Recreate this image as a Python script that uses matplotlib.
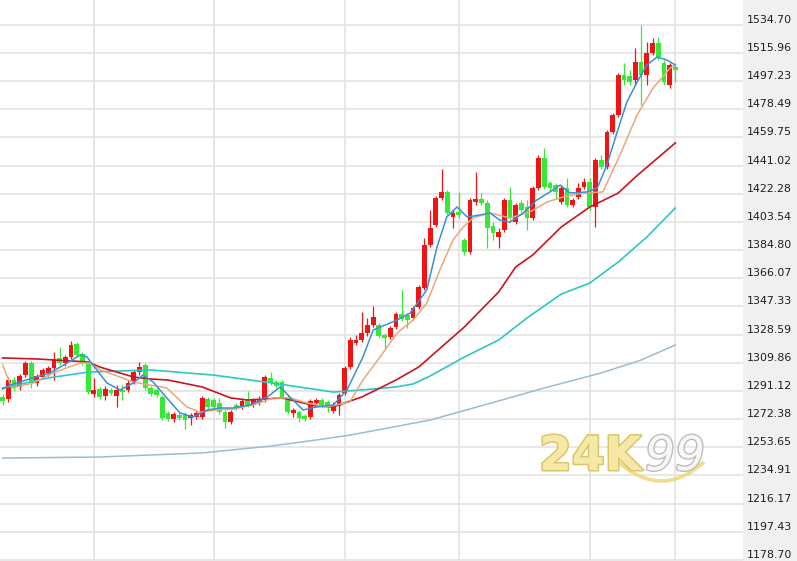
import matplotlib
matplotlib.use('Agg')
import matplotlib.pyplot as plt
import matplotlib.patheffects as pe
from matplotlib.path import Path
from matplotlib.patches import PathPatch

# ---------------- data ----------------
opens = [1287.1, 1285.8, 1298.4, 1293.8, 1301.7, 1309.7, 1296.4, 1300.4, 1303.1, 1306.4,
         1313.1, 1309.7, 1313.7, 1322.4, 1315.7, 1309.7, 1289.1, 1292.4, 1287.8, 1291.8,
         1287.8, 1291.8, 1291.8, 1297.1, 1303.7, 1308.4, 1293.1, 1291.8, 1287.1, 1276.5,
         1272.5, 1275.2, 1275.2, 1273.1, 1273.8, 1273.8, 1285.8, 1285.1, 1283.1, 1277.1,
         1270.5, 1281.8, 1280.5, 1285.1, 1281.8, 1283.1, 1285.1, 1299.8, 1297.1, 1297.1,
         1287.1, 1276.5, 1277.1, 1274.5, 1273.8, 1283.1, 1285.1, 1283.8, 1277.8, 1281.1,
         1289.8, 1307.1, 1323.0, 1325.0, 1329.7, 1335.0, 1335.0, 1328.4, 1327.0, 1333.7,
         1342.3, 1341.7, 1339.7, 1347.0, 1359.6, 1388.2, 1401.5, 1419.5, 1423.5, 1406.8,
         1410.2, 1391.5, 1383.6, 1416.8, 1418.8, 1416.2, 1400.9, 1393.5, 1398.2, 1418.1,
         1403.5, 1416.2, 1413.5, 1406.2, 1426.1, 1446.1, 1429.5, 1428.1, 1416.8, 1426.1,
         1414.8, 1420.1, 1426.8, 1430.1, 1413.5, 1444.7, 1440.1, 1463.4, 1474.7, 1501.3,
         1500.6, 1498.0, 1509.9, 1501.3, 1515.9, 1522.6, 1509.3, 1494.6, 1506.6]
highs = [1289.1, 1300.4, 1300.4, 1302.4, 1311.1, 1311.1, 1302.4, 1306.4, 1307.7, 1317.1,
         1320.4, 1315.1, 1324.4, 1323.7, 1317.1, 1311.1, 1299.8, 1293.8, 1294.4, 1293.1,
         1295.1, 1295.1, 1298.4, 1305.1, 1310.4, 1309.7, 1294.4, 1293.1, 1288.5, 1277.8,
         1277.1, 1276.5, 1277.1, 1276.5, 1277.8, 1287.8, 1287.1, 1286.5, 1286.5, 1278.5,
         1278.5, 1283.1, 1285.8, 1291.1, 1286.5, 1287.8, 1301.7, 1303.7, 1298.4, 1298.4,
         1288.5, 1279.8, 1278.5, 1275.8, 1285.8, 1286.5, 1286.5, 1285.1, 1283.8, 1289.8,
         1307.7, 1327.0, 1328.4, 1343.7, 1339.7, 1347.6, 1336.3, 1329.7, 1334.3, 1343.7,
         1358.3, 1343.0, 1347.6, 1361.6, 1392.9, 1411.5, 1420.8, 1438.8, 1424.8, 1411.5,
         1423.5, 1392.9, 1419.5, 1436.8, 1422.8, 1418.1, 1403.5, 1399.5, 1419.5, 1426.8,
         1416.2, 1418.1, 1418.1, 1427.5, 1448.1, 1452.7, 1430.8, 1429.5, 1427.5, 1432.8,
         1419.5, 1429.5, 1432.8, 1432.8, 1446.1, 1448.1, 1464.7, 1476.0, 1502.6, 1509.3,
         1504.6, 1519.2, 1534.5, 1523.2, 1525.9, 1526.6, 1511.3, 1509.3, 1509.3]
lows = [1281.8, 1283.8, 1291.1, 1291.8, 1300.4, 1293.1, 1294.4, 1299.1, 1301.1, 1298.4,
        1308.4, 1307.7, 1312.4, 1313.7, 1308.4, 1289.1, 1287.1, 1285.8, 1285.1, 1288.5,
        1280.5, 1285.1, 1290.4, 1295.8, 1301.7, 1291.8, 1287.8, 1287.1, 1271.8, 1271.2,
        1270.5, 1271.8, 1265.8, 1268.5, 1272.5, 1272.5, 1279.1, 1279.1, 1275.8, 1266.5,
        1269.2, 1278.5, 1279.1, 1280.5, 1280.5, 1281.8, 1283.8, 1295.1, 1293.1, 1285.8,
        1275.8, 1273.8, 1270.5, 1271.2, 1272.5, 1281.8, 1280.5, 1277.1, 1276.5, 1275.2,
        1288.5, 1305.7, 1321.7, 1323.7, 1327.7, 1333.7, 1326.4, 1319.7, 1325.7, 1332.3,
        1337.7, 1333.0, 1338.3, 1345.6, 1358.3, 1386.9, 1400.2, 1418.1, 1408.2, 1399.5,
        1406.2, 1381.6, 1382.2, 1414.8, 1414.8, 1386.2, 1391.5, 1386.2, 1396.9, 1404.8,
        1402.2, 1410.2, 1398.2, 1404.8, 1424.8, 1425.5, 1424.1, 1418.8, 1415.5, 1413.5,
        1413.5, 1418.8, 1425.5, 1411.5, 1400.2, 1438.8, 1438.8, 1462.0, 1473.3, 1494.6,
        1494.6, 1494.6, 1481.3, 1494.6, 1514.6, 1511.3, 1494.6, 1492.6, 1496.6]
closes = [1284.5, 1298.4, 1293.1, 1301.1, 1309.7, 1296.4, 1301.1, 1305.1, 1306.4, 1312.4,
          1309.7, 1313.7, 1321.7, 1315.1, 1309.7, 1290.4, 1291.8, 1287.1, 1292.4, 1289.8,
          1291.8, 1290.4, 1296.4, 1303.7, 1307.1, 1293.1, 1289.1, 1288.5, 1273.1, 1272.5,
          1275.8, 1273.1, 1271.8, 1275.2, 1276.5, 1286.5, 1280.5, 1280.5, 1277.1, 1270.5,
          1277.1, 1279.8, 1284.5, 1281.8, 1285.1, 1285.8, 1300.4, 1296.4, 1294.4, 1287.1,
          1277.1, 1278.5, 1273.2, 1272.5, 1284.5, 1285.1, 1281.8, 1280.5, 1281.8, 1288.5,
          1306.4, 1325.0, 1325.0, 1329.7, 1335.0, 1340.3, 1327.7, 1326.4, 1333.0, 1342.3,
          1339.0, 1338.3, 1346.3, 1360.3, 1388.2, 1399.5, 1419.5, 1423.5, 1409.5, 1409.5,
          1408.2, 1383.6, 1418.1, 1418.8, 1416.2, 1399.5, 1396.2, 1396.9, 1418.1, 1406.2,
          1414.8, 1411.5, 1406.2, 1426.1, 1446.1, 1426.8, 1426.1, 1423.5, 1426.1, 1414.8,
          1418.1, 1426.1, 1430.1, 1413.5, 1444.7, 1440.1, 1463.4, 1474.7, 1501.3, 1498.0,
          1496.6, 1509.9, 1501.3, 1515.9, 1522.6, 1513.3, 1496.6, 1507.9, 1504.6]

# moving-average lines, read at sample positions (candle index, price)
ma5_idx = [0, 1.3, 5.3, 8.3, 11.3, 13.6, 14.8, 16.5, 18.3, 20.6, 22.9, 24.6, 26.4, 28.8,
           31.1, 33.4, 35.9, 38.1, 40.4, 43.4, 46.4, 48.7, 50.4, 52.7, 55.1, 58.0, 60.4,
           63.2, 65.0, 69.2, 71.5, 74.4, 76.2, 77.9, 79.7, 81.5, 83.7, 85.5, 87.2, 89.0,
           91.3, 93.7, 96.0, 97.8, 99.5, 102.5, 104.3, 106.0, 107.8, 109.5, 111.3, 113.0,
           114.8, 116.5, 118.0]
ma5_val = [1292.4, 1295.1, 1299.8, 1303.1, 1309.7, 1315.1, 1313.7, 1305.1, 1296.4, 1291.8,
           1296.4, 1301.7, 1297.1, 1286.5, 1276.5, 1273.8, 1278.5, 1279.8, 1279.8, 1281.8,
           1287.1, 1293.8, 1287.1, 1278.5, 1280.5, 1281.8, 1291.8, 1313.7, 1331.7, 1338.3,
           1343.0, 1358.3, 1386.9, 1406.8, 1413.5, 1406.8, 1408.2, 1409.5, 1404.8, 1403.5,
           1409.5, 1418.1, 1423.5, 1428.1, 1422.8, 1423.5, 1426.1, 1441.4, 1463.4, 1483.3,
           1496.6, 1507.9, 1513.2, 1511.3, 1507.9]
ma10_idx = [0, 1.6, 5.3, 8.8, 13.6, 15.3, 17.1, 20.6, 22.9, 28.8, 32.3, 34.6, 37.6, 40.4,
            43.9, 47.4, 50.4, 53.4, 56.9, 60.9, 63.2, 66.2, 69.2, 72.0, 74.4, 76.7, 79.0,
            80.8, 82.5, 85.5, 89.0, 92.5, 95.5, 98.3, 101.8, 105.3, 108.3, 111.3, 114.1,
            117.1, 118.0]
ma10_val = [1308.4, 1293.1, 1296.4, 1303.1, 1309.7, 1309.7, 1305.1, 1300.4, 1297.1, 1293.1,
            1280.5, 1277.1, 1278.5, 1279.1, 1281.8, 1286.5, 1286.5, 1283.1, 1280.5, 1283.8,
            1298.4, 1313.7, 1329.7, 1338.3, 1349.6, 1371.6, 1391.5, 1400.2, 1406.2, 1409.5,
            1406.2, 1410.2, 1416.8, 1420.1, 1422.8, 1423.5, 1448.1, 1474.7, 1492.6, 1505.9,
            1507.9]
ma20_idx = [0, 6, 12, 15, 17, 20, 23, 26, 29, 35, 40, 43, 49, 52, 55, 58, 61, 63, 69, 73,
            81, 87, 90, 93, 98, 103, 108, 111, 118]
ma20_val = [1313.1, 1312.4, 1311.1, 1310.4, 1307.1, 1303.7, 1300.4, 1299.1, 1298.4, 1293.8,
            1286.5, 1285.1, 1286.5, 1283.8, 1281.1, 1280.5, 1284.5, 1287.1, 1298.4, 1307.1,
            1333.7, 1356.9, 1373.6, 1381.6, 1400.2, 1413.5, 1422.8, 1433.4, 1456.1]
ma60_idx = [0, 8, 15, 26, 37, 46, 52, 58, 63, 69, 72, 75, 81, 87, 92, 98, 103, 108, 113, 118]
ma60_val = [1293.1, 1299.8, 1303.7, 1305.1, 1301.7, 1297.1, 1293.8, 1290.4, 1291.8, 1293.8,
            1295.8, 1301.1, 1313.7, 1325.0, 1339.7, 1355.6, 1362.9, 1376.9, 1393.5, 1412.8]
ma120_idx = [0, 17, 35, 47, 55, 61, 75, 87, 95, 105, 112, 118]
ma120_val = [1246.5, 1247.2, 1249.9, 1254.5, 1258.5, 1261.8, 1271.8, 1284.5, 1293.1,
             1303.1, 1311.7, 1321.7]

tick_labels = ["1534.70", "1515.96", "1497.23", "1478.49", "1459.75", "1441.02", "1422.28",
               "1403.54", "1384.80", "1366.07", "1347.33", "1328.59", "1309.86", "1291.12",
               "1272.38", "1253.65", "1234.91", "1216.17", "1197.43", "1178.70"]
grid_idx = [16, 37, 60, 80, 103, 118]

# ---------------- figure ----------------
W, H = 797, 561
fig = plt.figure(figsize=(W / 100, H / 100), dpi=100)
ax = fig.add_axes([0, 0, 1, 1])
x_left, x_right = -0.47, 139.35
panel_x = 129.9
ax.set_xlim(x_left, x_right)
ax.set_ylim(1178.04, 1551.16)
for s in ax.spines.values():
    s.set_visible(False)

# right label panel
ax.axvspan(panel_x, x_right, color='#f0f0f0', lw=0, zorder=0)

tick_vals = [float(t) for t in tick_labels]
ax.set_yticks(tick_vals)
ax.set_yticklabels(tick_labels)
ax.yaxis.tick_right()
ax.tick_params(axis='y', length=0, pad=-36.3, labelsize=7.9, labelcolor='#1e1e1e')
for lab in ax.get_yticklabels():
    lab.set_verticalalignment('bottom')
ax.set_xticks([])

# grid (stops at the label panel)
ax.hlines(tick_vals, x_left, panel_x, color='#e5e5e5', lw=1.3, zorder=1)
for g in grid_idx:
    ax.axvline(g, color='#e5e5e5', lw=1.3, zorder=1)

# candles
up_c, dn_c = '#f01414', '#35ea35'
n = len(closes)
for i in range(n):
    o, h, l, c = opens[i], highs[i], lows[i], closes[i]
    col = up_c if c >= o else dn_c
    ax.vlines(i, l, h, color=col, lw=0.9, zorder=3)
    bot = min(o, c)
    hgt = max(abs(c - o), 0.8)
    ax.bar(i, hgt, bottom=bot, width=0.84, color=col, lw=0, zorder=3)

# moving averages
ax.plot(ma120_idx, ma120_val, color='#9dbbd2', lw=1.1, zorder=4)
ax.plot(ma60_idx, ma60_val, color='#2fc6c6', lw=1.2, zorder=4)
ax.plot(ma20_idx, ma20_val, color='#c8161e', lw=1.2, zorder=4)
ax.plot(ma10_idx, ma10_val, color='#e9a77b', lw=1.1, zorder=4)
ax.plot(ma5_idx, ma5_val, color='#3b8fd8', lw=1.1, zorder=4)

# watermark "24K99"
def fx(px):
    return px / W

def fy(py):
    return 1 - py / H

fig.text(fx(539), fy(470), '24K', fontsize=34, fontweight='bold', color='#f6e8a6',
         va='baseline', ha='left', zorder=10,
         path_effects=[pe.withStroke(linewidth=2.2, foreground='#dcc46a')])
fig.text(fx(645), fy(470), '99', fontsize=34, style='italic', color='#f7f7f7',
         va='baseline', ha='left', zorder=10,
         path_effects=[pe.withStroke(linewidth=2.0, foreground='#bdbdbd')])
verts = [(fx(618), fy(462)), (fx(662), fy(500)), (fx(704), fy(462))]
swoosh = PathPatch(Path(verts, [Path.MOVETO, Path.CURVE3, Path.CURVE3]),
                   transform=fig.transFigure, fill=False, edgecolor='#efd97c',
                   lw=2.6, alpha=0.9, zorder=9)
fig.patches.append(swoosh)

fig.savefig('out.png', dpi=100)
